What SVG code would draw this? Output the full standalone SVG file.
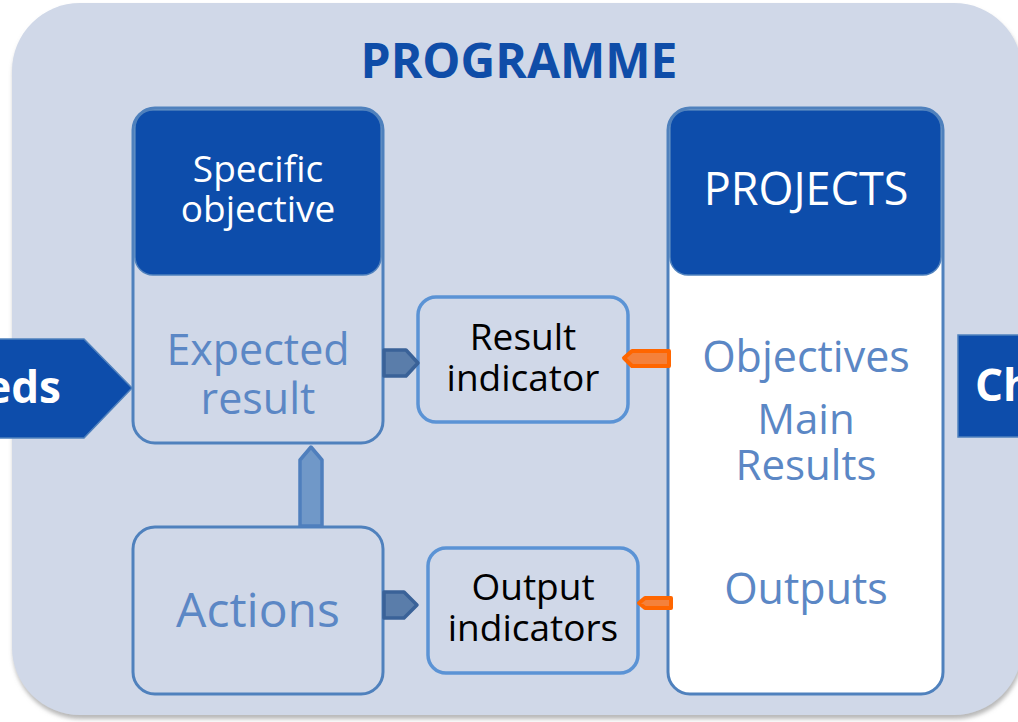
<svg xmlns="http://www.w3.org/2000/svg" width="1018" height="722" viewBox="0 0 1018 722">
<defs>
<style>
.t{font-family:"Open Sans","Noto Sans","Liberation Sans",sans-serif;text-anchor:middle}
.box{fill:#D0D8E8;stroke:#4F81BD;stroke-width:3}
.ind{fill:#D0D8E8;stroke:#5B93D5;stroke-width:3.5}
.hdr{fill:#0D4DAB;stroke:#4F81BD;stroke-width:1.5}
.lt{fill:#5B87C5}
.arr{fill:#5A7DAA;stroke:#3A6298;stroke-width:3.5;stroke-linejoin:round}
.org{fill:#F4813B;stroke:#FF6600;stroke-width:4;stroke-linejoin:round}
</style>
<filter id="sh" x="-5%" y="-5%" width="110%" height="110%">
<feDropShadow dx="1" dy="4" stdDeviation="2" flood-color="#888" flood-opacity="0.6"/>
</filter>
</defs>
<rect width="1018" height="722" fill="#FFFFFF"/>
<rect x="12" y="3" width="1010" height="712" rx="68" fill="#D0D8E8" filter="url(#sh)"/>
<text class="t" x="519" y="78" font-size="48" font-weight="bold" fill="#0F4DA8">PROGRAMME</text>

<g id="needs">
<path d="M-5,339 L84,339 L132,388 L84,438 L-5,438 Z" fill="#0D4DAB" stroke="#4F81BD" stroke-width="1.5"/>
<text x="61" y="403" font-family="Open Sans,Liberation Sans,sans-serif" font-size="44" font-weight="bold" fill="#FFFFFF" text-anchor="end">eds</text>
</g>

<g id="changes">
<rect x="958" y="335" width="70" height="102" fill="#0D4DAB" stroke="#4F81BD" stroke-width="1.5"/>
<text x="975" y="401" font-family="Open Sans,Liberation Sans,sans-serif" font-size="44" font-weight="bold" fill="#FFFFFF">Ch</text>
</g>

<g id="specific-objective">
<rect class="box" x="133" y="108" width="250" height="335" rx="22"/>
<rect class="hdr" x="135" y="110" width="246" height="165" rx="18"/>
<text class="t" x="258" y="182" font-size="37" fill="#FFFFFF">Specific</text>
<text class="t" x="258" y="222" font-size="37" fill="#FFFFFF">objective</text>
<text class="t lt" x="258" y="365" font-size="43">Expected</text>
<text class="t lt" x="258" y="414" font-size="43">result</text>
</g>

<g id="result-indicator">
<rect class="ind" x="418" y="297" width="210" height="125" rx="18"/>
<text class="t" x="523" y="350" font-size="37" fill="#000000">Result</text>
<text class="t" x="523" y="391" font-size="37" fill="#000000">indicator</text>
</g>

<g id="projects">
<rect x="668" y="108" width="275" height="586" rx="22" fill="#FFFFFF" stroke="#4F81BD" stroke-width="3"/>
<rect class="hdr" x="670" y="110" width="271" height="165" rx="18"/>
<text class="t" x="806" y="205" font-size="45" fill="#FFFFFF">PROJECTS</text>
<text class="t lt" x="806" y="372" font-size="43">Objectives</text>
<text class="t lt" x="806" y="434" font-size="42">Main</text>
<text class="t lt" x="806" y="480" font-size="42">Results</text>
<text class="t lt" x="806" y="604" font-size="43">Outputs</text>
</g>

<g id="actions">
<rect class="box" x="133" y="527" width="250" height="167" rx="22"/>
<text class="t lt" x="258" y="627" font-size="48">Actions</text>
</g>

<g id="output-indicators">
<rect class="ind" x="428" y="548" width="210" height="125" rx="18"/>
<text class="t" x="533" y="600" font-size="37" fill="#000000">Output</text>
<text class="t" x="533" y="641" font-size="37" fill="#000000">indicators</text>
</g>

<g id="connectors">
<path class="arr" d="M384,350 L406,350 L418,363 L406,376 L384,376 Z"/>
<path class="arr" d="M384,592 L404,592 L417,605 L404,618 L384,618 Z"/>
<path d="M300,526 L300,460 L311,447 L322,460 L322,526 Z" fill="#7098C8" stroke="#4F7FBD" stroke-width="3.5" stroke-linejoin="round"/>
<path class="org" d="M669,351 L632,351 L624,358 L632,366 L669,366 Z"/>
<path class="org" d="M671,598 L645,598 L639,603 L645,608 L671,608 Z"/>
</g>
</svg>
